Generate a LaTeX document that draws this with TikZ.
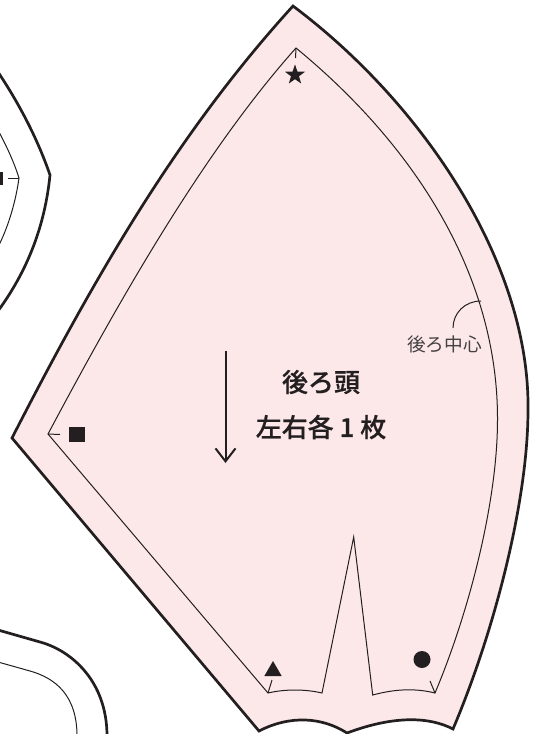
\documentclass[tikz,border=0pt]{standalone}
\usepackage{fontspec}
\setmainfont{Noto Sans CJK JP}
\newfontfamily\titlefont[FakeBold=0.5]{Noto Sans CJK JP Medium}
\usetikzlibrary{arrows.meta, shapes.geometric}
\definecolor{patternpink}{HTML}{FCE8E9}
\definecolor{patternink}{HTML}{231F20}
\begin{document}
\begin{tikzpicture}[
    x=1pt, y=-1pt,
    cutline/.style={draw=patternink, line width=2.7pt, line join=miter},
    sewline/.style={draw=patternink, line width=1pt, line join=miter},
    solidmark/.style={fill=patternink, draw=none, inner sep=0pt},
    biglabel/.style={text=patternink, font=\fontsize{26}{30}\selectfont\titlefont, inner sep=0pt},
    smalllabel/.style={text=patternink!85, font=\fontsize{18.7}{22}\selectfont, inner sep=0pt},
    grainline/.style={-{Straight Barb[length=13pt,width=20pt]}, draw=patternink, line width=2pt}
]
\useasboundingbox (0,0) rectangle (534,734);

% back head piece
\path[cutline, fill=patternpink] (293,6)
    .. controls (425,105) and (530,265) .. (528,410)
    .. controls (528,500) and (495,630) .. (453,729)
    .. controls (430,717) and (395,715) .. (347,733)
    .. controls (322,717) and (290,715) .. (259,731)
    -- (12,438)
    .. controls (97,272) and (180,130) .. (293,6) -- cycle;

% sewing line
\path[sewline] (296,48)
    .. controls (420,150) and (498,280) .. (497.5,420)
    .. controls (497.5,500) and (470,610) .. (435,693)
    .. controls (415,688) and (395,689) .. (372.7,695)
    -- (353.7,537) -- (322,693)
    .. controls (305,689) and (285,689) .. (268,693)
    -- (48,434)
    .. controls (122,295) and (205,150) .. (296,48) -- cycle;

% notches
\draw[sewline] (296,48) -- (295.5,58);
\draw[sewline] (48,434) -- (60,434.5);
\draw[sewline] (268,693) -- (272,680);
\draw[sewline] (435,693) -- (430,681);

% match marks
\node[solidmark, star, star points=5, star point ratio=2.5, minimum size=21pt] (starmark) at (295,75) {};
\node[solidmark, rectangle, minimum size=15.5pt] (squaremark) at (77,434.5) {};
\node[solidmark, regular polygon, regular polygon sides=3, minimum size=20pt] (trianglemark) at (273,671) {};
\node[solidmark, circle, minimum size=17pt] (circlemark) at (422,659.5) {};

% labels
\coordinate (graintop) at (225.5,351);
\coordinate (grainend) at (225.5,463);
\draw[grainline] (graintop) -- (grainend);
\node[biglabel] (title) at (321,382) {後ろ頭};
\node[biglabel] (count) at (321,427) {左右各 1 枚};
\node[smalllabel] (center) at (444.5,344) {後ろ中心};
\coordinate (centertick) at (481,301);
\draw[sewline] (centertick) .. controls (465,301) and (453,313) .. (453,328);

% neighbour pieces
\draw[cutline] (-2,72) .. controls (20,105) and (38,140) .. (50,175)
    .. controls (45,225) and (28,270) .. (-2,311);
\draw[sewline] (-1,132) .. controls (6,145) and (14,162) .. (19,178)
    .. controls (16,200) and (9,225) .. (-1,245);
\draw[sewline] (8,178) -- (19,178);
\fill[patternink] (0,172) rectangle (3,185);
\draw[cutline] (-2,630) -- (40,642) .. controls (70,650) and (107,680) .. (107,736);
\draw[sewline] (-2,662) -- (30,671) .. controls (55,678) and (77,695) .. (77,736);
\end{tikzpicture}
\end{document}
